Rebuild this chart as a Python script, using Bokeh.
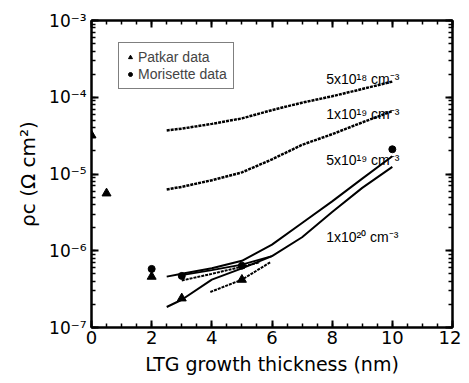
from bokeh.plotting import figure
from bokeh.models import (LinearAxis, LogAxis, Legend, LegendItem, Label, Range1d,
                          SingleIntervalTicker, LogTicker, CustomJSTickFormatter)
from bokeh.embed import file_html
from bokeh.resources import INLINE

# ---------------- data ----------------
y_ticks = [1e-7, 1e-6, 1e-5, 1e-4, 1e-3]
y_tick_labels = ["10⁻⁷", "10⁻⁶", "10⁻⁵", "10⁻⁴", "10⁻³"]

x_5e18 = [2.5, 3, 4, 5, 6, 7, 8, 9, 10]
y_5e18 = [3.7e-5, 3.9e-5, 4.5e-5, 5.3e-5, 6.8e-5, 8.5e-5, 1.03e-4, 1.28e-4, 1.6e-4]

x_1e19 = [2.5, 3, 4, 5, 6, 7, 8, 9, 10]
y_1e19 = [6.3e-6, 6.8e-6, 8.3e-6, 1.05e-5, 1.55e-5, 2.4e-5, 3.3e-5, 4.7e-5, 6.6e-5]

x_5e19_solid = [2.5, 3, 4, 5, 6, 7, 8, 9, 10]
y_5e19_solid = [4.6e-7, 5.0e-7, 5.9e-7, 7.4e-7, 1.2e-6, 2.3e-6, 4.4e-6, 8.7e-6, 1.7e-5]

x_5e19_mid = [3, 4, 5, 6]
y_5e19_mid = [4.8e-7, 5.6e-7, 6.6e-7, 8.5e-7]

x_5e19_dash = [3, 4, 5, 5.6]
y_5e19_dash = [4.1e-7, 5.0e-7, 6.2e-7, 7.1e-7]

x_1e20_solid = [2.5, 3, 4, 5, 6, 7, 8, 9, 10]
y_1e20_solid = [1.85e-7, 2.3e-7, 4.2e-7, 5.9e-7, 8.5e-7, 1.5e-6, 3.2e-6, 6.6e-6, 1.24e-5]

x_1e20_dash = [3.95, 5, 5.95]
y_1e20_dash = [2.9e-7, 4.2e-7, 7.1e-7]

patkar_x = [0, 0.5, 2, 3, 5]
patkar_y = [3.2e-5, 5.6e-6, 4.6e-7, 2.4e-7, 4.2e-7]
moris_x = [2, 3, 5, 10]
moris_y = [5.8e-7, 4.7e-7, 6.4e-7, 2.1e-5]

curve_labels = ["5x10¹⁸ cm⁻³", "1x10¹⁹ cm⁻³", "5x10¹⁹ cm⁻³", "1x10²⁰ cm⁻³"]
curve_label_x = [7.8, 7.8, 7.8, 7.8]
curve_label_y = [1.75e-4, 6.1e-5, 1.5e-5, 1.49e-6]

# ---------------- figure ----------------
FONT = "DejaVu Sans"
p = figure(width=461, height=378, x_range=Range1d(0, 12), y_range=Range1d(1e-7, 1e-3),
           y_axis_type="log", output_backend="svg", toolbar_location=None,
           min_border_left=91, min_border_right=9, min_border_top=20, min_border_bottom=51)
p.outline_line_color = "#000000"
p.outline_line_width = 2
p.grid.visible = False

xt = SingleIntervalTicker(interval=2, num_minor_ticks=4)
yt = LogTicker(num_minor_ticks=10)
yfmt = CustomJSTickFormatter(args=dict(tick_vals=y_ticks, tick_texts=y_tick_labels), code="""
const i = tick_vals.findIndex(t => Math.abs(Math.log10(t) - Math.log10(tick)) < 1e-6);
return i >= 0 ? tick_texts[i] : "";
""")
blank = CustomJSTickFormatter(code="return '';")

def style_axis(ax):
    ax.axis_line_color = "#000000"
    ax.axis_line_width = 2
    ax.major_tick_in = 7
    ax.major_tick_out = 0
    ax.minor_tick_in = 4
    ax.minor_tick_out = 0
    ax.major_tick_line_color = "#000000"
    ax.minor_tick_line_color = "#000000"
    ax.major_tick_line_width = 2
    ax.minor_tick_line_width = 1.5
    ax.major_label_text_color = "#000000"
    ax.major_label_text_font = FONT

xa = p.xaxis[0]
xa.ticker = xt
style_axis(xa)
xa.major_label_text_font_size = "18px"
xa.major_label_standoff = 3
xa.axis_label = "LTG growth thickness (nm)"
xa.axis_label_text_font = FONT
xa.axis_label_text_font_size = "19px"
xa.axis_label_text_font_style = "normal"
xa.axis_label_text_color = "#000000"
xa.axis_label_standoff = 6

ya = p.yaxis[0]
ya.ticker = yt
ya.formatter = yfmt
style_axis(ya)
ya.major_label_text_font_size = "17px"
ya.major_label_standoff = 5
ya.axis_label = "ρc (Ω cm²)"
ya.axis_label_text_font = FONT
ya.axis_label_text_font_size = "20px"
ya.axis_label_text_font_style = "normal"
ya.axis_label_text_color = "#000000"
ya.axis_label_standoff = 6

top = LinearAxis(ticker=xt, formatter=blank)
style_axis(top)
top.major_label_text_font_size = "1px"
top.major_label_standoff = 0
p.add_layout(top, "above")

right = LogAxis(ticker=yt, formatter=blank)
style_axis(right)
right.major_label_text_font_size = "1px"
right.major_label_standoff = 0
p.add_layout(right, "right")

# ---------------- curves ----------------
p.line(x_5e19_solid, y_5e19_solid, line_color="black", line_width=2)
p.line(x_5e19_mid, y_5e19_mid, line_color="black", line_width=1.8)
p.line(x_1e20_solid, y_1e20_solid, line_color="black", line_width=2)
# dashed curves go on the overlay layer so their dash pattern stays with them
p.line(x_5e18, y_5e18, line_color="black", line_width=2.5, line_dash="3 1", level="overlay")
p.line(x_1e19, y_1e19, line_color="black", line_width=2.5, line_dash="3 1", level="overlay")
p.line(x_5e19_dash, y_5e19_dash, line_color="black", line_width=2, line_dash="3 1", level="overlay")
p.line(x_1e20_dash, y_1e20_dash, line_color="black", line_width=2, line_dash="3 1", level="overlay")

r_pat = p.scatter(patkar_x, patkar_y, marker="triangle", size=9, color="black")
r_mor = p.scatter(moris_x, moris_y, marker="circle", size=7, color="black")

for t, lx, ly in zip(curve_labels, curve_label_x, curve_label_y):
    p.add_layout(Label(x=lx, y=ly, text=t, text_font="Liberation Sans",
                       text_font_size="14px", text_color="black",
                       text_baseline="alphabetic", text_align="left"))

# ---------------- legend ----------------
legend = Legend(items=[LegendItem(label="Patkar data", renderers=[r_pat]),
                       LegendItem(label="Morisette data", renderers=[r_mor])],
                location=(27, 238), border_line_color="#000000", border_line_width=1,
                background_fill_alpha=1,
                label_text_font="Liberation Sans", label_text_font_size="14px",
                label_height=14, glyph_height=14, glyph_width=10, label_standoff=3,
                padding=6, spacing=1, margin=0)
p.add_layout(legend)

open("out.html", "w").write(file_html(p, INLINE))
